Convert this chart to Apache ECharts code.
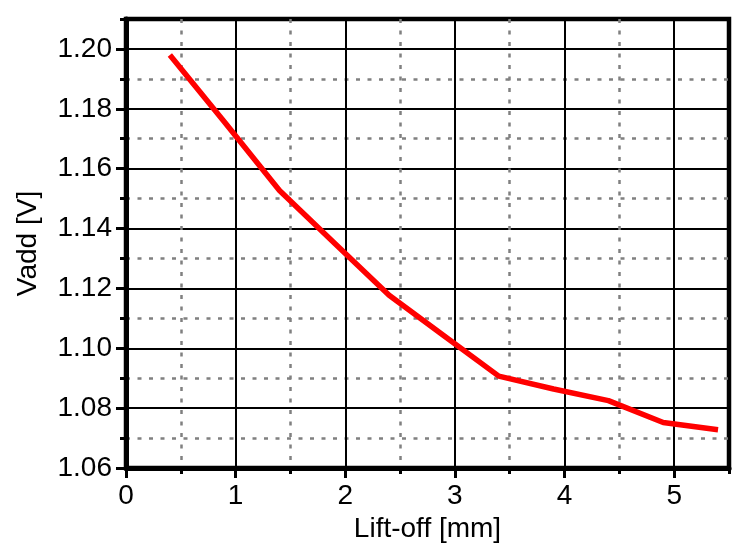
<!DOCTYPE html>
<html><head><meta charset="utf-8">
<script src="https://cdn.jsdelivr.net/npm/echarts@6/dist/echarts.min.js"></script>
<style>html,body{margin:0;padding:0;background:#fff}#c{width:737px;height:548px}</style>
</head><body><div id="c"></div><script>
const liftOff = [0.4, 0.9, 1.4, 1.9, 2.4, 2.9, 3.4, 3.9, 4.4, 4.9, 5.4];
const vadd = [1.198, 1.1755, 1.1527, 1.1352, 1.1177, 1.1042, 1.0907, 1.0864, 1.0825, 1.0752, 1.0728];
const xTickLabels = ['0', '1', '2', '3', '4', '5'];
const yTickLabels = ['1.06', '1.08', '1.10', '1.12', '1.14', '1.16', '1.18', '1.20'];

const FONT = "'Liberation Sans', Arial, sans-serif";
const chart = echarts.init(document.getElementById('c'), null, {renderer: 'canvas'});
const dotted = {show: true, showMinLine: false, showMaxLine: false,
  lineStyle: {color: ['#808080', 'rgba(0,0,0,0)'], width: 2.5, type: [4, 7.5]}};
chart.setOption({
  animation: false,
  backgroundColor: '#fff',
  grid: {left: 126, right: 8, top: 19, bottom: 80, show: true, borderColor: '#000', borderWidth: 4.5, backgroundColor: 'transparent'},
  xAxis: [
    {
      type: 'value', min: 0, max: 5.5, interval: 1, position: 'bottom',
      axisLine: {show: true, onZero: false, lineStyle: {color: '#000', width: 5}},
      axisTick: {show: true, length: 10, lineStyle: {color: '#000', width: 3}},
      axisLabel: {fontSize: 28, color: '#000', fontFamily: FONT, margin: 14, showMaxLabel: false,
        formatter: v => { const i = Math.round(v); return Math.abs(v - i) < 1e-6 && xTickLabels[i] !== undefined ? xTickLabels[i] : ''; }},
      splitLine: {show: true, lineStyle: {color: '#000', width: 2}},
      name: 'Lift-off [mm]', nameLocation: 'middle', nameGap: 34,
      nameTextStyle: {fontSize: 28, color: '#000', fontFamily: FONT}
    },
    {
      type: 'value', min: 0, max: 5.5, interval: 0.5, position: 'bottom',
      axisLine: {show: false}, axisLabel: {show: false},
      axisTick: {show: true, length: 6, lineStyle: {color: '#000', width: 3}},
      splitLine: dotted
    }
  ],
  yAxis: [
    {
      type: 'value', min: 1.06, max: 1.21, interval: 0.02, position: 'left',
      axisLine: {show: true, onZero: false, lineStyle: {color: '#000', width: 5}},
      axisTick: {show: true, length: 10, lineStyle: {color: '#000', width: 3}},
      axisLabel: {fontSize: 28, color: '#000', fontFamily: FONT, margin: 14, showMaxLabel: false,
        formatter: v => { const i = Math.round((v - 1.06) / 0.02); return Math.abs(v - (1.06 + i * 0.02)) < 1e-6 && yTickLabels[i] !== undefined ? yTickLabels[i] : ''; }},
      splitLine: {show: true, lineStyle: {color: '#000', width: 2}},
      name: 'Vadd [V]', nameLocation: 'middle', nameGap: 84, nameRotate: 90,
      nameTextStyle: {fontSize: 28, color: '#000', fontFamily: FONT}
    },
    {
      type: 'value', min: 1.06, max: 1.21, interval: 0.01, position: 'left',
      axisLine: {show: false}, axisLabel: {show: false},
      axisTick: {show: true, length: 6, lineStyle: {color: '#000', width: 3}},
      splitLine: dotted
    }
  ],
  series: [{
    type: 'line', xAxisIndex: 0, yAxisIndex: 0, showSymbol: false, symbol: 'none', z: 10,
    lineStyle: {color: '#ff0000', width: 5.5},
    data: liftOff.map((x, i) => [x, vadd[i]])
  }]
});
</script></body></html>
